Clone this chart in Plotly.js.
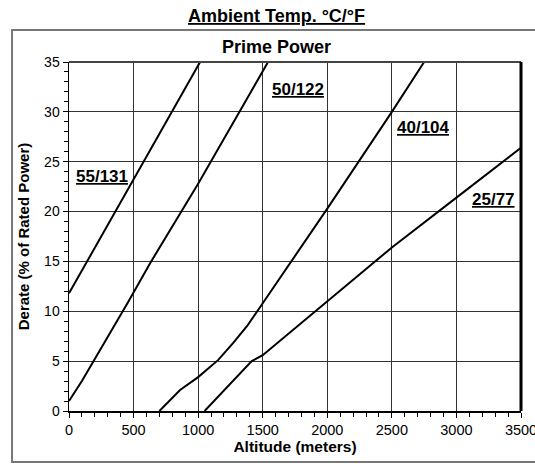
<!DOCTYPE html>
<html>
<head>
<meta charset="utf-8">
<script src="https://cdn.plot.ly/plotly-3.0.1.min.js"></script>
<style>html,body{margin:0;padding:0;background:#fff;}#chart{width:535px;height:466px;}</style>
</head>
<body>
<div id="chart"></div>
<script>
// Altitude (m) and derate (%) points for each ambient temperature curve
var seriesNames = ["55/131", "50/122", "40/104", "25/77"];
var alt55 = [0, 140, 500, 805, 1015];
var der55 = [11.8, 15, 23.2, 30.2, 35];
var alt50 = [0, 100, 457, 627, 1000, 1541];
var der50 = [1.0, 3.0, 10.9, 14.8, 22.8, 35];
var alt40 = [700, 860, 1000, 1154, 1270, 1378, 1479, 2000, 2500, 2750];
var der40 = [0, 2.1, 3.4, 5.1, 6.8, 8.5, 10.4, 20.3, 30, 35];
var alt25 = [1050, 1415, 1500, 1944, 2500, 3000, 3500];
var der25 = [0, 5, 5.6, 10.4, 16.4, 21.4, 26.4];
var xTicks = [0, 500, 1000, 1500, 2000, 2500, 3000, 3500];
var yTicks = [0, 5, 10, 15, 20, 25, 30, 35];
// label anchor positions (data coords) for curve labels
var labelX = [40, 1557, 2525, 3106];
var labelY = [23.5, 32.2, 28.45, 21.2];

var FONT = "Liberation Sans, Arial, sans-serif";
var altSets = [alt55, alt50, alt40, alt25];
var derSets = [der55, der50, der40, der25];
var traces = altSets.map(function(a, i){
  return {x: a, y: derSets[i], mode: "lines", name: seriesNames[i],
    line: {color: "#000", width: 2}, hoverinfo: "x+y+name"};
});

var annotations = seriesNames.map(function(n, i){
  return {x: labelX[i], y: labelY[i], xref: "x", yref: "y", text: "<b>" + n + "</b>",
    showarrow: false, xanchor: "left", yanchor: "middle",
    font: {family: FONT, size: 17, color: "#000", lineposition: "under"}};
});
annotations.push({x: 0.460, y: 1.132, xref: "paper", yref: "paper", showarrow: false,
  xanchor: "center", yanchor: "middle",
  text: "<b>Ambient Temp. °C/°F</b>", font: {family: FONT, size: 18, color: "#000", lineposition: "under"}});
annotations.push({x: 0.458, y: 1.042, xref: "paper", yref: "paper", showarrow: false,
  xanchor: "center", yanchor: "middle",
  text: "<b>Prime Power</b>", font: {family: FONT, size: 18, color: "#000"}});

var layout = {
  width: 535, height: 466,
  margin: {l: 69, r: 14, t: 62, b: 55},
  paper_bgcolor: "#fff", plot_bgcolor: "#fff",
  showlegend: false,
  font: {family: FONT, size: 14, color: "#000"},
  xaxis: {range: [0, 3500], tickvals: xTicks, ticktext: xTicks.map(String),
    showgrid: true, gridcolor: "#333", gridwidth: 1, zeroline: false,
    showline: true, linecolor: "#000", linewidth: 1.5, mirror: false,
    ticks: "outside", ticklen: 5, tickcolor: "#000", ticklabeloverflow: "allow",
    minor: {dtick: 100, ticks: "outside", ticklen: 4, tickcolor: "#000", showgrid: false},
    tickfont: {family: FONT, size: 14.5},
    title: {text: "<b>Altitude (meters)</b>", font: {family: FONT, size: 15.5}, standoff: 3}},
  yaxis: {range: [0, 35], tickvals: yTicks, ticktext: yTicks.map(String),
    showgrid: true, gridcolor: "#333", gridwidth: 1, zeroline: false,
    showline: true, linecolor: "#000", linewidth: 1.5,
    ticks: "outside", ticklen: 5, tickcolor: "#000",
    minor: {dtick: 1, ticks: "outside", ticklen: 4, tickcolor: "#000", showgrid: false},
    tickfont: {family: FONT, size: 14},
    title: {text: "<b>Derate (% of Rated Power)</b>", font: {family: FONT, size: 15}, standoff: 11}},
  annotations: annotations,
  shapes: [
    {type: "rect", xref: "paper", yref: "paper", x0: -0.126, x1: 1.06, y0: -0.146, y1: 1.092,
      line: {color: "#777", width: 2}, fillcolor: "rgba(0,0,0,0)", layer: "below"},
    {type: "line", xref: "paper", yref: "paper", x0: 0, x1: 1, y0: 1, y1: 1,
      line: {color: "#444", width: 2}},
    {type: "line", xref: "paper", yref: "paper", x0: 1, x1: 1, y0: 0, y1: 1,
      line: {color: "#000", width: 3}}
  ]
};
Plotly.newPlot("chart", traces, layout, {displayModeBar: false, staticPlot: true});
</script>
</body>
</html>
